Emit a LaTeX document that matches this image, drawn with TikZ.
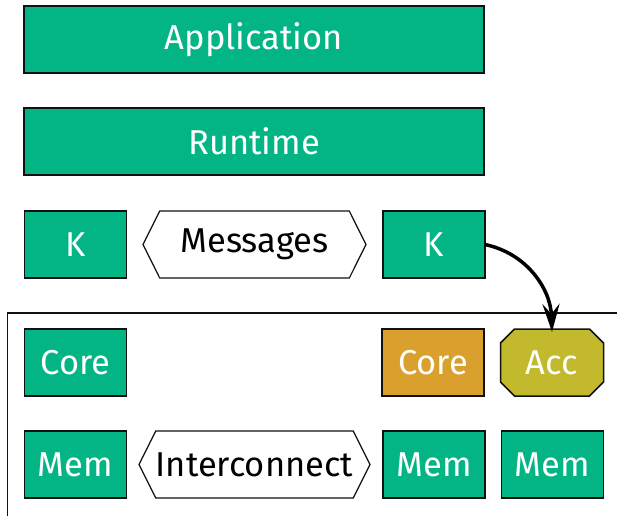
\documentclass[tikz,border=0pt]{standalone}
\usepackage{fontspec}
\setmainfont{Fira Sans}
\usetikzlibrary{shapes.symbols,arrows.meta}
\definecolor{boxgreen}{HTML}{03B585}
\definecolor{coreorange}{HTML}{D9A02E}
\definecolor{accolive}{HTML}{C3B92C}
\definecolor{edge}{HTML}{111111}
\tikzset{
  x=1pt, y=-1pt,
  lbl/.style={font=\fontsize{34.5}{40}\selectfont},
  gbox/.style={lbl, draw=edge, line width=1.5pt, fill=boxgreen, text=white,
    minimum width=102pt, minimum height=67pt, inner sep=0pt, outer sep=0pt},
  hexbox/.style={lbl, draw=edge, line width=1.2pt, fill=white, text=black,
    shape=signal, signal to=west and east, signal pointer angle=127,
    minimum width=223pt, minimum height=67pt, inner sep=0pt, outer sep=0pt},
  octtext/.style={lbl, text=white, minimum width=103pt, minimum height=67pt,
    inner sep=0pt, outer sep=0pt},
  octline/.style={draw=edge, line width=1.5pt, fill=accolive},
  link/.style={draw=black, line width=3.5pt, -{Stealth[length=28pt,width=17pt,inset=10pt]}},
}
\begin{document}
\begin{tikzpicture}
\useasboundingbox (0,0) rectangle (617,515);
\begin{scope}
\clip (0,0) rectangle (617,515);
\draw[line width=1.5pt, draw=edge] (7.5,313) rectangle (640,540);
\end{scope}
\node[gbox, minimum width=460pt] (app) at (254,39.5) {Application};
\node[gbox, minimum width=460pt] (rt) at (254,141.5) {Runtime};
\node[gbox] (kl) at (75.5,244.5) {K};
\node[hexbox] (msg) at (254.5,244.5) {Messages};
\node[gbox] (kr) at (434,244.5) {K};
\node[gbox] (corel) at (75.5,362.5) {Core};
\node[gbox, fill=coreorange] (corer) at (433,362.5) {Core};
\node[octtext] (acc) at (552,362.5) {};
\draw[octline] ([xshift=14pt]acc.north west) -- ([xshift=-14pt]acc.north east)
  -- ([yshift=-14pt]acc.north east) -- ([yshift=14pt]acc.south east)
  -- ([xshift=-14pt]acc.south east) -- ([xshift=14pt]acc.south west)
  -- ([yshift=14pt]acc.south west) -- ([yshift=-14pt]acc.north west) -- cycle;
\node[octtext] (acclbl) at (acc.center) {Acc};
\node[gbox] (meml) at (75.5,464.5) {Mem};
\node[hexbox] (ic) at (254.5,464.5) {Interconnect};
\node[gbox] (memm) at (434,464.5) {Mem};
\node[gbox] (memr) at (552.5,464.5) {Mem};
\draw[link] (kr.east) to[out=-12,in=92] ([yshift=-3pt]acc.north);
\end{tikzpicture}
\end{document}
